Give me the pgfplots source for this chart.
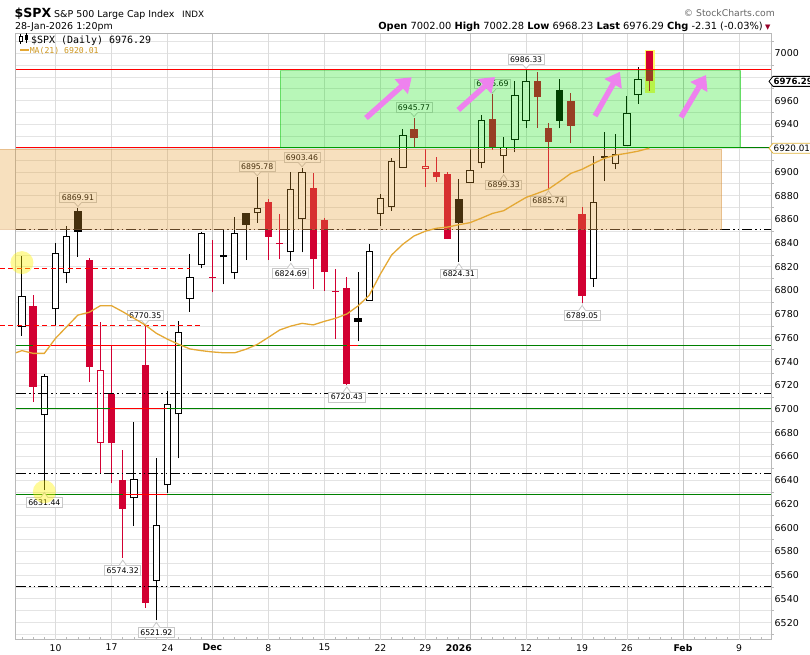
\documentclass[border=0pt]{standalone}
\usepackage{fontspec}
\setmainfont{DejaVu Sans}
\newfontfamily\monofont{DejaVu Sans Mono}
\usepackage{pgfplots}
\usepackage{pgfplotstable}
\pgfplotsset{compat=1.18}
\usetikzlibrary{arrows.meta}

\definecolor{cred}{RGB}{210,0,50}
\definecolor{lred}{RGB}{255,0,0}
\definecolor{lgreen}{RGB}{0,128,0}
\definecolor{maorange}{RGB}{228,168,52}
\definecolor{matext}{RGB}{205,150,30}
\definecolor{ovorange}{RGB}{229,155,44}
\definecolor{ovorangeb}{RGB}{215,150,80}
\definecolor{ovgreen}{RGB}{0,228,0}
\definecolor{ovgreenb}{RGB}{0,190,0}
\definecolor{pinkarrow}{RGB}{238,130,238}
\definecolor{gridc}{RGB}{228,228,228}
\definecolor{vgridc}{RGB}{220,220,220}
\definecolor{mgridc}{RGB}{198,198,198}
\definecolor{framec}{RGB}{185,185,185}
\definecolor{lblborder}{RGB}{200,200,200}
\definecolor{hlyellow}{RGB}{255,250,100}
\definecolor{gold}{RGB}{225,180,60}
\definecolor{chgred}{RGB}{150,0,40}

% hollow black candles: close > open, close > previous close
\pgfplotstableread{
i o h l c
0 6769.1 6829.1 6761.9 6795.1
2 6694.8 6729.6 6631.44 6727.7
3 6784.0 6839.8 6770.3 6831.6
4 6814.5 6854.4 6806.1 6845.9
10 6624.8 6688.9 6601.4 6640.8
12 6554.8 6658.5 6521.92 6602.0
13 6635.7 6715.5 6629.5 6704.0
14 6695.6 6774.6 6658.5 6764.8
15 6792.8 6830.8 6782.1 6811.1
16 6821.2 6849.6 6818.7 6848.2
19 6814.5 6861.7 6809.4 6848.2
21 6865.1 6895.78 6857.2 6869.3
24 6832.2 6899.7 6824.69 6885.3
25 6860.0 6903.46 6832.2 6899.7
31 6791.4 6839.2 6791.4 6833.3
32 6864.2 6881.4 6854.6 6877.7
33 6870.7 6911.5 6867.3 6909.2
34 6903.5 6936.2 6903.5 6931.1
40 6890.9 6919.1 6890.5 6901.6
41 6907.3 6948.0 6903.0 6943.7
43 6913.4 6929.7 6899.33 6920.7
44 6926.7 6976.9 6916.5 6965.2
45 6942.9 6986.33 6937.3 6976.6
51 6809.4 6913.4 6803.2 6874.3
53 6906.7 6931.7 6902.2 6914.8
54 6922.1 6964.0 6922.1 6949.4
55 6964.6 6988.2 6957.3 6978.6
}\hb

% filled black candles
\pgfplotstableread{
i o h l c
5 6867.0 6869.91 6828.5 6849.6
18 6829.8 6851.0 6805.2 6828.0
20 6865.1 6865.5 6825.7 6855.2
30 6776.6 6815.8 6757.0 6773.7
39 6877.1 6893.8 6824.31 6857.2
48 6969.1 6978.3 6936.8 6943.2
52 6913.6 6933.6 6892.6 6912.0
}\fb

% hollow red candles
\pgfplotstableread{
i o h l c
7 6671.2 6773.2 6645.2 6732.7
36 6902.2 6919.1 6887.5 6905.0
}\hr

% filled red candles
\pgfplotstableread{
i o h l c
1 6787.0 6796.2 6706.2 6719.0
6 6825.7 6827.2 6723.1 6735.8
8 6712.9 6753.5 6637.4 6671.2
9 6639.9 6665.5 6574.32 6616.0
11 6737.2 6770.35 6532.6 6536.8
17 6811.8 6842.4 6798.5 6810.8
22 6874.9 6877.1 6825.7 6845.4
23 6840.2 6864.5 6826.3 6839.2
26 6886.7 6898.8 6801.0 6826.3
27 6859.4 6860.9 6799.8 6815.3
28 6800.0 6817.9 6758.9 6799.0
29 6802.1 6811.7 6720.43 6721.2
35 6935.9 6945.77 6920.7 6928.8
37 6899.9 6912.8 6891.7 6895.4
38 6898.2 6900.2 6843.4 6843.4
42 6944.6 6965.69 6918.5 6919.9
46 6976.6 6984.5 6937.3 6963.0
47 6936.8 6941.0 6885.74 6925.5
49 6959.8 6966.8 6924.1 6939.0
50 6864.5 6870.7 6789.05 6795.6
56 7002.00 7002.28 6968.23 6976.29
}\fr

% 21-day moving average
\pgfplotstableread{
i ma
-1 6746.0
0 6749.3
1 6747.0
2 6747.0
3 6759.7
4 6769.5
5 6779.3
6 6781.6
7 6787.2
8 6787.2
9 6782.1
10 6776.6
11 6770.9
12 6763.9
13 6758.9
14 6754.6
15 6750.7
16 6749.3
17 6748.2
18 6747.5
19 6747.5
20 6750.5
21 6754.5
22 6760.5
23 6766.7
24 6770.0
25 6772.3
26 6771.0
27 6774.0
28 6776.6
29 6780.2
30 6787.0
31 6796.0
32 6814.0
33 6830.0
34 6839.0
35 6846.0
36 6850.0
37 6852.5
38 6853.5
39 6855.5
40 6857.2
41 6861.0
42 6865.0
43 6867.3
44 6873.0
45 6878.5
46 6881.9
47 6885.5
48 6892.0
49 6898.8
50 6902.2
51 6907.0
52 6911.5
53 6914.2
54 6915.7
55 6917.5
56 6920.01
}\matab

\tikzset{lbl/.style={font=\fontsize{7.8}{8}\selectfont, fill=white, draw=lblborder, line width=0.8bp,
  inner xsep=2bp, inner ysep=2bp, text height=5.7bp, text depth=0bp}}

\newcommand{\hilab}[2]{%
  \node[lbl, anchor=south] at ([yshift=5bp]axis cs:#1,#2) {#2};
  \fill[white] ([xshift=-3.5bp,yshift=5.4bp]axis cs:#1,#2) -- ([yshift=1bp]axis cs:#1,#2) -- ([xshift=3.5bp,yshift=5.4bp]axis cs:#1,#2) -- cycle;
  \draw[lblborder, line width=0.8bp] ([xshift=-3.5bp,yshift=5bp]axis cs:#1,#2) -- ([yshift=1bp]axis cs:#1,#2) -- ([xshift=3.5bp,yshift=5bp]axis cs:#1,#2);}
\newcommand{\lolab}[2]{%
  \node[lbl, anchor=north] at ([yshift=-7bp]axis cs:#1,#2) {#2};
  \fill[white] ([xshift=-3.5bp,yshift=-7.4bp]axis cs:#1,#2) -- ([yshift=-2bp]axis cs:#1,#2) -- ([xshift=3.5bp,yshift=-7.4bp]axis cs:#1,#2) -- cycle;
  \draw[lblborder, line width=0.8bp] ([xshift=-3.5bp,yshift=-7bp]axis cs:#1,#2) -- ([yshift=-2bp]axis cs:#1,#2) -- ([xshift=3.5bp,yshift=-7bp]axis cs:#1,#2);}

\pgfplotsset{
  candlebar/.style 2 args={draw=none, mark=none, error bars/.cd, y dir=plus, y explicit, error mark=none,
    error bar style={draw=#1, line width=#2, line cap=butt}},
}

\begin{document}
\begin{tikzpicture}[x=1bp,y=1bp]
\useasboundingbox (0,0) rectangle (810,655);
\begin{axis}[
  at={(16bp,15bp)}, anchor=south west,
  scale only axis, width=755bp, height=606bp,
  xmin=-0.53, xmax=66.86, ymin=6505.3, ymax=7016.3,
  clip mode=individual,
  axis line style={framec, line width=1bp},
  xtick={3,8,13,17,22,27,32,36,39,45,50,54,59,64},
  xticklabels={10,17,24,\textbf{Dec},8,15,22,29,\textbf{2026},12,19,26,\textbf{Feb},9},
  minor xtick={0,...,66},
  ytick={6520,6540,...,6900,6940,6960,7000},
  minor ytick={6510,6530,...,7010,6920,6980},
  ymajorgrids, yminorgrids,
  major grid style={gridc, line width=0.8bp},
  minor grid style={gridc, line width=0.8bp},
  extra x ticks={3,8,13,22,27,32,36,45,50,54,64},
  extra x tick labels={},
  extra x tick style={grid=major, major grid style={vgridc, line width=0.8bp}},
  xtick pos=bottom, ytick pos=right, yticklabel pos=right,
  major tick length=0bp, minor tick length=2.5bp,
  tick style={framec, line width=0.8bp},
  xtick align=inside, ytick align=outside,
  scaled y ticks=false,
  /pgf/number format/assume math mode=true,
  /pgf/number format/fixed,
  /pgf/number format/precision=0,
  /pgf/number format/1000 sep={},
  yticklabel style={font=\fontsize{9.5}{10}\selectfont, anchor=west, inner sep=0pt, xshift=3.5bp},
  xticklabel style={font=\fontsize{9.3}{10}\selectfont, anchor=north, inner sep=0pt, yshift=-4bp},
]
% month separators
\draw[mgridc, line width=0.9bp] (axis cs:17,6505.3) -- (axis cs:17,7016.3);
\draw[mgridc, line width=0.9bp] (axis cs:40,6505.3) -- (axis cs:40,7016.3);
\draw[mgridc, line width=0.9bp] (axis cs:59,6505.3) -- (axis cs:59,7016.3);
% highlight of last bar
\fill[hlyellow] (axis cs:55.62,6966.3) rectangle (axis cs:56.5,7002.6);

% wicks
\addplot[candlebar={black}{1bp}] table[x=i, y=l, y error expr=\thisrow{h}-\thisrow{l}] {\hb};
\addplot[candlebar={black}{1bp}] table[x=i, y=l, y error expr=\thisrow{h}-\thisrow{l}] {\fb};
\addplot[candlebar={cred}{1bp}] table[x=i, y=l, y error expr=\thisrow{h}-\thisrow{l}] {\hr};
\addplot[candlebar={cred}{1bp}] table[x=i, y=l, y error expr=\thisrow{h}-\thisrow{l}] {\fr};
% filled bodies
\addplot[candlebar={black}{7.3bp}] table[x=i, y=c, y error expr=\thisrow{o}-\thisrow{c}] {\fb};
\addplot[candlebar={cred}{7.3bp}] table[x=i, y=c, y error expr=\thisrow{o}-\thisrow{c}] {\fr};
% hollow bodies
\addplot[candlebar={black}{7.3bp}] table[x=i, y=o, y error expr=\thisrow{c}-\thisrow{o}] {\hb};
\addplot[candlebar={white}{5.3bp}] table[x=i, y expr=\thisrow{o}+0.85, y error expr=\thisrow{c}-\thisrow{o}-1.7] {\hb};
\addplot[candlebar={cred}{7.3bp}] table[x=i, y=o, y error expr=\thisrow{c}-\thisrow{o}] {\hr};
\addplot[candlebar={white}{5.3bp}] table[x=i, y expr=\thisrow{o}+0.85, y error expr=\thisrow{c}-\thisrow{o}-1.7] {\hr};

% horizontal lines
\draw[lred, line width=1bp] (axis cs:-0.53,6986.33) -- (axis cs:66.86,6986.33);
\draw[lred, line width=1bp] (axis cs:-0.53,6920.3) -- (axis cs:23.04,6920.3);
\draw[lgreen, line width=1bp] (axis cs:23.04,6920.3) -- (axis cs:66.86,6920.3);
\draw[black, line width=1bp, dash pattern=on 10bp off 3bp on 1.5bp off 3bp on 1.5bp off 3bp] (axis cs:-0.53,6851.5) -- (axis cs:66.86,6851.5);
\draw[black, line width=1bp, dash pattern=on 10bp off 3bp on 1.5bp off 3bp on 1.5bp off 3bp] (axis cs:-0.53,6713.3) -- (axis cs:66.86,6713.3);
\draw[black, line width=1bp, dash pattern=on 10bp off 3bp on 1.5bp off 3bp on 1.5bp off 3bp] (axis cs:-0.53,6645.3) -- (axis cs:66.86,6645.3);
\draw[black, line width=1bp, dash pattern=on 10bp off 3bp on 1.5bp off 3bp on 1.5bp off 3bp] (axis cs:-0.53,6550.8) -- (axis cs:66.86,6550.8);
\draw[lgreen, line width=1bp] (axis cs:-0.53,6753.8) -- (axis cs:66.86,6753.8);
\draw[lgreen, line width=1bp] (axis cs:-0.53,6700.7) -- (axis cs:66.86,6700.7);
\draw[lgreen, line width=1bp] (axis cs:-0.53,6628.4) -- (axis cs:66.86,6628.4);
\draw[lred, line width=1bp] (axis cs:1.0,6753.8) -- (axis cs:13.85,6753.8);
\draw[lred, line width=1bp] (axis cs:29.0,6753.8) -- (axis cs:30.0,6753.8);
\draw[lred, line width=1bp] (axis cs:7.9,6700.7) -- (axis cs:12.95,6700.7);
\draw[lred, line width=1bp] (axis cs:9.05,6628.4) -- (axis cs:12.93,6628.4);
\draw[lred, line width=1bp, dash pattern=on 5bp off 3.5bp] (axis cs:-1.96,6818.7) -- (axis cs:15.0,6818.7);
\draw[lred, line width=1bp, dash pattern=on 5bp off 3.5bp] (axis cs:-1.96,6770.35) -- (axis cs:16.0,6770.35);

% price labels
\hilab{5}{6869.91}
\hilab{11}{6770.35}
\hilab{21}{6895.78}
\hilab{25}{6903.46}
\hilab{35}{6945.77}
\hilab{42}{6965.69}
\hilab{45}{6986.33}
\lolab{2}{6631.44}
\lolab{9}{6574.32}
\lolab{12}{6521.92}
\lolab{24}{6824.69}
\lolab{29}{6720.43}
\lolab{39}{6824.31}
\lolab{43}{6899.33}
\lolab{47}{6885.74}
\lolab{50}{6789.05}

% yellow highlight circles
\fill[yellow, opacity=0.4] (axis cs:0,6823.5) circle[radius=11.5bp];
\fill[yellow, opacity=0.4] (axis cs:2,6630.3) circle[radius=11.5bp];

% zones
\path[fill=ovorange, fill opacity=0.31, draw=ovorangeb, draw opacity=0.45, line width=1bp]
  (axis cs:-1.96,6851.5) rectangle (axis cs:62.45,6919.3);
\path[fill=ovgreen, fill opacity=0.28, draw=ovgreenb, draw opacity=0.45, line width=1bp]
  (axis cs:23.04,6920.7) rectangle (axis cs:64.18,6985.3);

% moving average
\addplot[maorange, line width=1.3bp, mark=none] table[x=i, y=ma] {\matab};
\end{axis}

% arrows
\draw[pinkarrow, line width=5.5bp, -{Triangle[length=14bp,width=19bp]}] (366,537) -- (411.7,577.7);
\draw[pinkarrow, line width=5.5bp, -{Triangle[length=14bp,width=19bp]}] (458.3,545) -- (495,578);
\draw[pinkarrow, line width=5.5bp, -{Triangle[length=14bp,width=19bp]}] (595,539) -- (620,583.3);
\draw[pinkarrow, line width=5.5bp, -{Triangle[length=14bp,width=19bp]}] (681,537.7) -- (706,580);

% right-hand value tags
\path[fill=white, draw=black, line width=0.8bp] (769,573.6) -- (773,578.6) -- (812,578.6) -- (812,568.6) -- (773,568.6) -- cycle;
\node[anchor=west, inner sep=0pt, font=\bfseries\fontsize{8.6}{10}\selectfont] at (773.5,573.6) {6976.29};
\path[fill=white, draw=gold, line width=0.8bp] (769,506.8) -- (773,511.8) -- (812,511.8) -- (812,501.8) -- (773,501.8) -- cycle;
\node[anchor=west, inner sep=0pt, font=\fontsize{8.8}{10}\selectfont] at (773.5,506.8) {6920.01};

% header
\node[anchor=base west, inner sep=0pt, font=\bfseries\fontsize{12.6}{14}\selectfont] at (14.5,637.5) {\$SPX};
\node[anchor=base west, inner sep=0pt, font=\fontsize{9.5}{10}\selectfont] at (54,637.7) {S\&P 500 Large Cap Index};
\node[anchor=base west, inner sep=0pt, font=\fontsize{8.8}{10}\selectfont] at (182,637.7) {INDX};
\node[anchor=base west, inner sep=0pt, font=\fontsize{9.5}{10}\selectfont] at (15,625) {28-Jan-2026 1:20pm};
\node[anchor=base east, inner sep=0pt, font=\fontsize{9.9}{10}\selectfont] at (763,625)
  {\textbf{Open} 7002.00 \textbf{High} 7002.28 \textbf{Low} 6968.23 \textbf{Last} 6976.29 \textbf{Chg} -2.31 (-0.03\%)};
\node[anchor=base west, inner sep=0pt, font=\fontsize{7}{8}\selectfont, text=chgred] at (765,625.5) {▼};
\node[anchor=base east, inner sep=0pt, font=\fontsize{9.3}{10}\selectfont, text=black!60] at (775,638) {© StockCharts.com};

% legend inside plot
\draw[black, line width=0.8bp] (20.5,621) -- (20.5,611);
\path[fill=white, draw=black, line width=0.8bp] (19,618.5) rectangle (22,614);
\draw[black, line width=0.8bp] (26,621.5) -- (26,611.5);
\fill[black] (24.5,619.5) rectangle (27.5,615);
\node[anchor=base west, inner sep=0pt, font=\monofont\fontsize{10}{11}\selectfont] at (31,611.7) {\$SPX (Daily) 6976.29};
\draw[maorange, line width=2.5bp] (20,605) -- (28.5,605);
\node[anchor=base west, inner sep=0pt, font=\monofont\fontsize{8.2}{9}\selectfont, text=matext] at (29.6,601.3) {MA(21) 6920.01};
\end{tikzpicture}
\end{document}
